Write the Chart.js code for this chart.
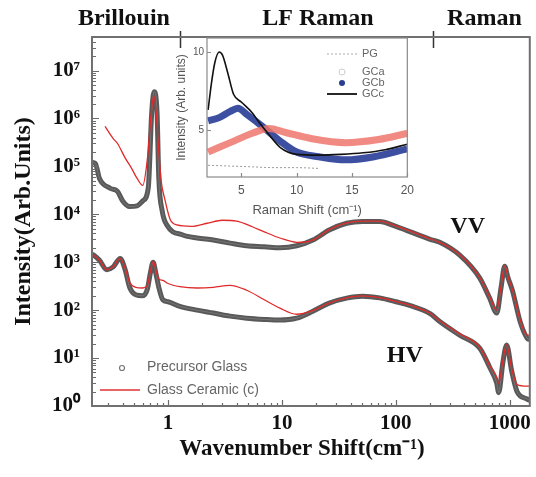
<!DOCTYPE html>
<html>
<head>
<meta charset="utf-8">
<script src="https://cdn.jsdelivr.net/npm/chart.js@4.4.1/dist/chart.umd.min.js"></script>
<style>
  html, body { margin: 0; padding: 0; background: #fff; }
  #wrap { position: relative; width: 536px; height: 477px; }
  #mainChart { position: absolute; left: 0; top: 0; }
  #insetChart { position: absolute; left: 170px; top: 28px; }
</style>
</head>
<body>
<div id="wrap">
  <canvas id="mainChart" width="536" height="477"></canvas>
  <canvas id="insetChart" width="250" height="195"></canvas>
</div>
<script>
// main plot: wavenumber (cm-1) vs intensity
const vvGlassX = [0.215,0.23,0.25,0.31,0.36,0.40,0.46,0.535,0.60,0.67,0.72,0.755,0.80,0.83,0.89,0.98,1.35,1.8,2.5,3.5,4.9,7.0,9.6,13.5,18.7,26,37,51,72,100,200,243,364,546,665,769,840,903,960,1060,1230,1420,1500];
const vvGlassY = [1.2e5,1.15e5,5.6e4,3.5e4,3.0e4,1.9e4,1.45e4,1.5e4,1.9e4,3.5e4,1.4e6,3.6e6,1.4e6,5.6e4,1.15e4,5.9e3,3.7e3,3.2e3,2.9e3,2.5e3,2.2e3,2.1e3,2.0e3,2.2e3,2.9e3,4.7e3,6.5e3,7.1e3,7.1e3,5.6e3,3.0e3,2.6e3,1.4e3,465,180,87,300,825,500,250,59,26,24];

const vvCeramicX = [0.28,0.33,0.36,0.42,0.48,0.535,0.60,0.66,0.71,0.75,0.79,0.83,0.87,0.94,1.04,1.2,1.6,2.2,3.0,4.0,5.5,7.0,9.6,13.5,18.7,26,37,51,72,100,200,243,364,546,665,769,840,903,960,1060,1230,1420,1500];
const vvCeramicY = [6.8e5,3.8e5,3.0e5,1.5e5,9e4,5.6e4,4.0e4,1.5e5,1.2e6,3.0e6,1.2e6,2.0e5,5.0e4,2.0e4,8.0e3,6.0e3,5.6e3,6.5e3,7.5e3,7.2e3,5.5e3,4.3e3,3.2e3,2.6e3,2.9e3,4.8e3,6.6e3,7.2e3,7.2e3,5.7e3,3.1e3,2.6e3,1.45e3,480,190,100,320,850,520,260,65,30,30];

const hvX = [0.215,0.25,0.29,0.33,0.38,0.42,0.46,0.52,0.60,0.66,0.70,0.74,0.78,0.83,0.90,1.0,1.27,1.8,2.5,3.5,4.9,7.0,9.6,13.5,18.7,26,37,51,72,100,141,200,243,364,546,665,769,800,870,940,1040,1160,1420,1500];
const hvGlassY = [1.5e3,1.1e3,700,800,1.2e3,700,300,210,200,280,600,1.0e3,600,300,165,150,120,100,87,75,68,64,62,68,95,140,178,195,180,150,120,85,58,30,16,6.5,3.0,1.9,8,18.7,5.4,2.0,1.4,1.3];
const hvCeramicY = [1.5e3,1.1e3,700,800,1.2e3,750,380,300,290,330,650,1.05e3,700,450,420,360,310,290,300,330,260,165,110,82,98,140,180,198,182,152,122,86,60,32,17,7,4.0,3.0,9,19,6,2.8,2.6,2.6];

const xTickValues = [1, 10, 100, 1000];
const yTickValues = [1, 10, 100, 1e3, 1e4, 1e5, 1e6, 1e7];
const regionNames = ['Brillouin', 'LF Raman', 'Raman'];
const regionBreaks = [1.27, 210];
const legendNames = ['Precursor Glass', 'Glass Ceramic (c)'];

// inset: Raman shift (cm-1) vs intensity
const pgX = [2.0, 4, 6, 8, 10, 12];
const pgY = [2.75, 2.7, 2.65, 2.6, 2.6, 2.55];
const gcaX = [2.0, 4, 6, 7.5, 9, 11.4, 14.4, 17.4, 20];
const gcaY = [3.6, 4.2, 4.8, 5.1, 4.85, 4.45, 4.2, 4.4, 4.8];
const gcbX = [2.0, 3, 4, 4.7, 5.5, 6.8, 8.5, 10, 12, 14.4, 17, 20];
const gcbY = [5.6, 5.8, 6.2, 6.4, 6.0, 5.3, 4.3, 3.6, 3.3, 3.1, 3.3, 3.8];
const gccX = [2.0, 2.3, 2.6, 3.0, 3.3, 3.8, 4.3, 5, 6, 6.5, 7.4, 8.5, 10, 12, 14, 16, 18, 20];
const gccY = [6.3, 8.0, 9.3, 10.0, 9.8, 8.6, 7.3, 6.8, 6.1, 5.6, 4.8, 3.9, 3.45, 3.4, 3.45, 3.55, 3.75, 4.1];
const insetXTicks = [5, 10, 15, 20];
const insetYTicks = [5, 10];
const insetNames = ['PG', 'GCa', 'GCb', 'GCc'];

const SUP = { '0': '⁰', '1': '¹', '2': '²', '3': '³', '4': '⁴', '5': '⁵', '6': '⁶', '7': '⁷', '8': '⁸', '9': '⁹' };
const serif = '"Liberation Serif", "Times New Roman", serif';
const sans = '"Liberation Sans", Arial, sans-serif';

function pts(xs, ys) {
    return xs.map((x, i) => ({ x: x, y: ys[i] }));
}

// note: chart.js paints dataset 0 last, so list the top layer first
function lineSet(data, color, width, extra) {
    return Object.assign({
        data: data,
        borderColor: color,
        borderWidth: width,
        pointRadius: 0,
        fill: false,
        cubicInterpolationMode: 'monotone'
    }, extra || {});
}

// frame, inside ticks, region labels, VV/HV and the legend
const mainDecor = {
    id: 'mainDecor',
    afterDraw(chart) {
        const { ctx, chartArea: a, scales: { x, y } } = chart;
        ctx.save();

        ctx.strokeStyle = '#6a6a6a';
        ctx.lineWidth = 1.2;
        ctx.beginPath();
        for (let e = 0; e <= 7; e++) {
            for (let m = 1; m <= 9; m++) {
                const v = m * Math.pow(10, e);
                if (v > y.max) continue;
                const py = Math.round(y.getPixelForValue(v)) + 0.5;
                const len = m === 1 ? 7 : 4;
                ctx.moveTo(a.left, py);
                ctx.lineTo(a.left + len, py);
            }
        }
        for (let e = -1; e <= 3; e++) {
            for (let m = 1; m <= 9; m++) {
                const v = m * Math.pow(10, e);
                if (v < x.min || v > x.max) continue;
                const px = Math.round(x.getPixelForValue(v)) + 0.5;
                const len = m === 1 ? 6 : 3;
                ctx.moveTo(px, a.bottom);
                ctx.lineTo(px, a.bottom - len);
            }
        }
        ctx.stroke();

        // region separators on top
        ctx.strokeStyle = '#333';
        ctx.lineWidth = 1.5;
        ctx.beginPath();
        regionBreaks.forEach(v => {
            const px = Math.round(x.getPixelForValue(v)) + 0.5;
            ctx.moveTo(px, a.top - 6);
            ctx.lineTo(px, a.top + 11);
        });
        ctx.stroke();

        // frame
        ctx.strokeStyle = '#707070';
        ctx.lineWidth = 2;
        ctx.strokeRect(a.left, a.top, a.right - a.left, a.bottom - a.top);

        // text
        ctx.fillStyle = '#111';
        ctx.textBaseline = 'middle';
        ctx.textAlign = 'center';
        ctx.font = 'bold 24px ' + serif;
        const regionCentres = [0.41, 20.7, 600];
        regionNames.forEach((name, i) => {
            ctx.fillText(name, x.getPixelForValue(regionCentres[i]), 19);
        });
        ctx.fillText('VV', x.getPixelForValue(427), y.getPixelForValue(5600));
        ctx.fillText('HV', x.getPixelForValue(120), y.getPixelForValue(11));

        ctx.font = 'bold 23px ' + serif;
        ctx.fillText('Wavenumber Shift(cm⁻¹)', 302, 449);
        ctx.font = 'bold 24px ' + serif;
        ctx.save();
        ctx.translate(24, (a.top + a.bottom) / 2);
        ctx.rotate(-Math.PI / 2);
        ctx.fillText('Intensity(Arb.Units)', 0, 0);
        ctx.restore();

        // legend
        ctx.textAlign = 'left';
        ctx.font = '14px ' + sans;
        ctx.fillStyle = '#666';
        ctx.fillText(legendNames[0], a.left + 55, 367);
        ctx.fillText(legendNames[1], a.left + 55, 390);
        ctx.strokeStyle = '#777';
        ctx.lineWidth = 1.2;
        ctx.beginPath();
        ctx.arc(a.left + 30, 368, 2.5, 0, Math.PI * 2);
        ctx.stroke();
        ctx.strokeStyle = '#e03030';
        ctx.lineWidth = 1.3;
        ctx.beginPath();
        ctx.moveTo(a.left + 8, 390);
        ctx.lineTo(a.left + 48, 390);
        ctx.stroke();

        ctx.restore();
    }
};

const glassBand = 'rgba(60,60,60,0.85)';
const glassCore = 'rgba(140,140,140,0.55)';
const ceramicRed = '#e02a2a';

new Chart(document.getElementById('mainChart'), {
    type: 'line',
    data: {
        datasets: [
            lineSet(pts(vvCeramicX, vvCeramicY), ceramicRed, 1.3),
            lineSet(pts(hvX, hvCeramicY), ceramicRed, 1.3),
            lineSet(pts(vvGlassX, vvGlassY), glassCore, 1),
            lineSet(pts(vvGlassX, vvGlassY), glassBand, 5),
            lineSet(pts(hvX, hvGlassY), glassCore, 1),
            lineSet(pts(hvX, hvGlassY), glassBand, 5)
        ]
    },
    options: {
        responsive: false,
        animation: false,
        layout: { padding: { top: 37, right: 6, left: 0, bottom: 0 } },
        plugins: { legend: { display: false }, tooltip: { enabled: false } },
        scales: {
            x: {
                type: 'logarithmic',
                min: 0.215,
                max: 1500,
                afterBuildTicks: s => { s.ticks = xTickValues.map(v => ({ value: v })); },
                afterFit: s => { s.height = 71; },
                grid: { display: false, drawTicks: false },
                border: { display: false },
                ticks: {
                    autoSkip: false,
                    maxRotation: 0,
                    padding: 5,
                    color: '#111',
                    font: { family: serif, size: 21, weight: 'bold' },
                    callback: v => String(v)
                }
            },
            y: {
                type: 'logarithmic',
                min: 1,
                max: 5e7,
                afterBuildTicks: s => { s.ticks = yTickValues.map(v => ({ value: v })); },
                afterFit: s => { s.width = 92; },
                grid: { display: false, drawTicks: false },
                border: { display: false },
                ticks: {
                    padding: 12,
                    color: '#111',
                    font: { family: serif, size: 21, weight: 'bold' },
                    callback: v => '10' + String(Math.round(Math.log10(v))).split('').map(c => SUP[c]).join('')
                }
            }
        }
    },
    plugins: [mainDecor]
});

// inset frame, inner ticks and legend
const insetDecor = {
    id: 'insetDecor',
    afterDraw(chart) {
        const { ctx, chartArea: a, scales: { x, y } } = chart;
        ctx.save();
        ctx.strokeStyle = '#8a8a8a';
        ctx.lineWidth = 1.2;
        ctx.strokeRect(a.left, a.top, a.right - a.left, a.bottom - a.top);
        ctx.beginPath();
        insetXTicks.forEach(v => {
            const px = Math.round(x.getPixelForValue(v)) + 0.5;
            ctx.moveTo(px, a.bottom);
            ctx.lineTo(px, a.bottom - 4);
        });
        insetYTicks.forEach(v => {
            const py = Math.round(y.getPixelForValue(v)) + 0.5;
            ctx.moveTo(a.left, py);
            ctx.lineTo(a.left + 4, py);
        });
        ctx.stroke();

        const lx = 157, tx = 192;
        const rows = [26, 44, 55, 66];
        ctx.font = '11px ' + sans;
        ctx.fillStyle = '#666';
        ctx.textBaseline = 'middle';
        insetNames.forEach((n, i) => ctx.fillText(n, tx, rows[i]));

        ctx.strokeStyle = '#aaa';
        ctx.lineWidth = 1;
        ctx.setLineDash([2, 2]);
        ctx.beginPath();
        ctx.moveTo(lx, rows[0]);
        ctx.lineTo(lx + 30, rows[0]);
        ctx.stroke();
        ctx.setLineDash([]);

        ctx.strokeStyle = '#ccc';
        ctx.beginPath();
        ctx.arc(lx + 15, rows[1], 3, 0, Math.PI * 2);
        ctx.stroke();

        ctx.fillStyle = '#2b3d8f';
        ctx.beginPath();
        ctx.arc(lx + 15, rows[2], 3, 0, Math.PI * 2);
        ctx.fill();

        ctx.strokeStyle = '#111';
        ctx.lineWidth = 1.8;
        ctx.beginPath();
        ctx.moveTo(lx, rows[3]);
        ctx.lineTo(lx + 30, rows[3]);
        ctx.stroke();
        ctx.restore();
    }
};

new Chart(document.getElementById('insetChart'), {
    type: 'line',
    data: {
        datasets: [
            lineSet(pts(gccX, gccY), '#111', 1.6),
            lineSet(pts(gcaX, gcaY), 'rgba(238,118,108,0.85)', 7),
            lineSet(pts(gcbX, gcbY), 'rgba(40,60,150,0.9)', 7),
            lineSet(pts(pgX, pgY), '#999', 1, { borderDash: [2, 2] })
        ]
    },
    options: {
        responsive: false,
        animation: false,
        layout: { padding: { top: 10, right: 12, left: 0, bottom: 0 } },
        plugins: { legend: { display: false }, tooltip: { enabled: false } },
        scales: {
            x: {
                type: 'linear',
                min: 1.9,
                max: 20,
                afterBuildTicks: s => { s.ticks = insetXTicks.map(v => ({ value: v })); },
                afterFit: s => { s.height = 46; },
                grid: { display: false, drawTicks: false },
                border: { display: false },
                ticks: { padding: 6, color: '#555', font: { family: sans, size: 12 }, maxRotation: 0, autoSkip: false },
                title: {
                    display: true,
                    text: 'Raman Shift (cm⁻¹)',
                    color: '#555',
                    font: { family: sans, size: 13 },
                    padding: { top: 0, bottom: 5 }
                }
            },
            y: {
                type: 'linear',
                min: 2,
                max: 10.9,
                afterBuildTicks: s => { s.ticks = insetYTicks.map(v => ({ value: v })); },
                afterFit: s => { s.width = 37; },
                grid: { display: false, drawTicks: false },
                border: { display: false },
                ticks: { padding: 3, color: '#555', font: { family: sans, size: 10 } },
                title: {
                    display: true,
                    text: 'Intensity (Arb. units)',
                    color: '#555',
                    font: { family: sans, size: 12 },
                    padding: { top: 4, bottom: 0 }
                }
            }
        }
    },
    plugins: [insetDecor]
});
</script>
</body>
</html>
